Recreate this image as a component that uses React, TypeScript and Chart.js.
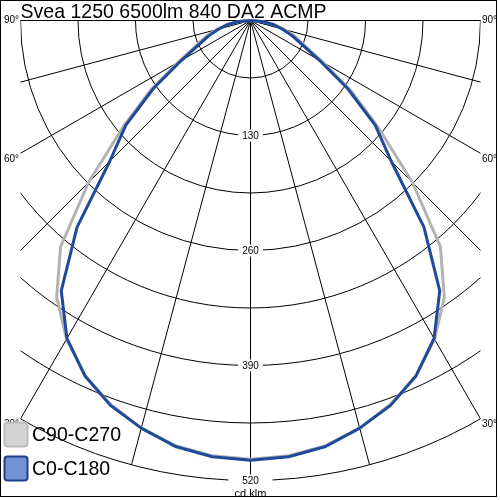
import React, { useEffect, useRef } from "react";
import { Chart, registerables } from "chart.js";

Chart.register(...registerables);

// ---------- data ----------
const TITLE = "Svea 1250 6500lm 840 DA2 ACMP";
const UNIT_LABEL = "cd.klm";
const SERIES_LABELS = ["C90-C270", "C0-C180"];
// gamma angles (degrees from nadir), same for both half-planes
const gammaAngles = [0, 5, 10, 15, 20, 25, 30, 35, 40, 45, 50, 55, 60, 65, 70, 75, 80, 85, 90];
// luminous intensity, cd/klm
const c0c180 = [497, 495, 489, 477, 463, 443, 415, 373, 305, 225, 184, 134, 90, 64, 50, 37, 26, 13, 0];
const c90c270 = [496, 494, 488, 477, 462, 443, 416, 382, 334, 259, 189, 139, 95, 68, 54, 40, 28, 14, 0];
// grid
const ringValues = [65, 130, 195, 260, 325, 390, 455, 520];
const ringLabels = [130, 260, 390, 520];
const spokeAngles = [-90, -75, -60, -45, -30, -15, 0, 15, 30, 45, 60, 75, 90];
const angleLabels = [30, 60, 90];

// ---------- style / layout ----------
const GRAY = "#b3b3b3";
const BLUE = "#1e4a9a";
const PX_PER_CD = 115 / 130;
const CENTER_X = 250.5;
const CENTER_Y = 20.5;
const SIZE = 500;
const GRID_HALF_WIDTH = 260; // cd units
const FONT = '"Liberation Sans", Arial, sans-serif';
const BIG_FONT = "21px " + FONT;
const BIG_SCALE_X = 0.93;

function polar(gammaDeg: number, value: number) {
  const g = (gammaDeg * Math.PI) / 180;
  return { x: value * Math.sin(g), y: -value * Math.cos(g) };
}

function buildCurve(values: number[]) {
  const pts: { x: number; y: number }[] = [];
  for (let i = gammaAngles.length - 1; i >= 0; i--) pts.push(polar(-gammaAngles[i], values[i]));
  for (let i = 1; i < gammaAngles.length; i++) pts.push(polar(gammaAngles[i], values[i]));
  return pts;
}

function drawCondensed(ctx: CanvasRenderingContext2D, text: string, x: number, y: number) {
  ctx.save();
  ctx.translate(x, y);
  ctx.scale(BIG_SCALE_X, 1);
  ctx.font = BIG_FONT;
  ctx.textAlign = "left";
  ctx.fillText(text, 0, 0);
  ctx.restore();
}

const polarGridPlugin = {
  id: "polarGrid",
  beforeDraw(chart: any) {
    const { ctx } = chart;
    ctx.save();
    ctx.fillStyle = "#ffffff";
    ctx.fillRect(0, 0, chart.width, chart.height);
    ctx.restore();
  },
  beforeDatasetsDraw(chart: any) {
    const { ctx } = chart;
    const xs = chart.scales.x;
    const ys = chart.scales.y;
    const cx = xs.getPixelForValue(0);
    const cy = ys.getPixelForValue(0);
    const k = xs.getPixelForValue(1) - cx;
    const left = xs.getPixelForValue(-GRID_HALF_WIDTH);
    const right = xs.getPixelForValue(GRID_HALF_WIDTH);
    const rmax = ringValues[ringValues.length - 1] * k;

    ctx.save();
    ctx.beginPath();
    ctx.rect(left, cy - 1, right - left, rmax + 3);
    ctx.clip();
    ctx.strokeStyle = "#000";
    ctx.lineWidth = 1;
    for (const v of ringValues) {
      ctx.beginPath();
      ctx.arc(cx, cy, v * k, 0, Math.PI);
      ctx.stroke();
    }
    for (const a of spokeAngles) {
      const p = polar(a, ringValues[ringValues.length - 1]);
      ctx.beginPath();
      ctx.moveTo(cx, cy);
      ctx.lineTo(xs.getPixelForValue(p.x), ys.getPixelForValue(p.y));
      ctx.stroke();
    }
    ctx.restore();

    // ring labels
    ctx.save();
    ctx.font = "10px " + FONT;
    ctx.textAlign = "center";
    ctx.textBaseline = "middle";
    ringLabels.forEach((v, i) => {
      const py = ys.getPixelForValue(-v);
      const txt = String(v);
      const w = i === ringLabels.length - 1 ? 44 : ctx.measureText(txt).width + 8;
      ctx.fillStyle = "#fff";
      ctx.fillRect(cx - w / 2, py - 6, w, 12);
      ctx.fillStyle = "#000";
      ctx.fillText(txt, cx, py + 0.5);
    });
    // unit label
    ctx.font = "11px " + FONT;
    ctx.textBaseline = "alphabetic";
    ctx.fillText(UNIT_LABEL, cx, 497);

    // angle labels
    ctx.font = "10px " + FONT;
    ctx.textBaseline = "middle";
    for (const a of angleLabels) {
      const g = (a * Math.PI) / 180;
      const len = Math.min(rmax, (right - cx) / Math.sin(g));
      const endY = cy + len * Math.cos(g);
      const ty = endY + (a < 90 ? 5.5 : 0);
      ctx.textAlign = "right";
      ctx.fillText(a + "°", left - 1.5, ty);
      ctx.textAlign = "left";
      ctx.fillText(a + "°", right + 1.5, ty);
    }
    ctx.restore();
  },
  afterDraw(chart: any) {
    const { ctx } = chart;
    ctx.save();
    // title
    ctx.fillStyle = "#000";
    ctx.textBaseline = "alphabetic";
    drawCondensed(ctx, TITLE, 20.5, 17.5);

    // legend
    const items = [
      { label: SERIES_LABELS[0], fill: "#d4d4d4", stroke: "#bcbcbc", y: 422 },
      { label: SERIES_LABELS[1], fill: "#7193d6", stroke: "#1f3f8f", y: 456 },
    ];
    for (const it of items) {
      ctx.beginPath();
      (ctx as any).roundRect(4.5, it.y + 0.5, 23, 24, 3);
      ctx.fillStyle = it.fill;
      ctx.fill();
      ctx.lineWidth = 2;
      ctx.strokeStyle = it.stroke;
      ctx.stroke();
      ctx.fillStyle = "#000";
      ctx.textBaseline = "middle";
      drawCondensed(ctx, it.label, 32, it.y + 13);
    }

    // frame
    ctx.strokeStyle = "#000";
    ctx.lineWidth = 1;
    ctx.strokeRect(0.5, 0.5, 496, 496);
    ctx.restore();
  },
};

export default function App() {
  const ref = useRef<HTMLCanvasElement | null>(null);

  useEffect(() => {
    if (!ref.current) return;
    const xMin = -CENTER_X / PX_PER_CD;
    const xMax = (SIZE - CENTER_X) / PX_PER_CD;
    const yMax = CENTER_Y / PX_PER_CD;
    const yMin = -(SIZE - CENTER_Y) / PX_PER_CD;

    const chart = new Chart(ref.current, {
      type: "scatter",
      data: {
        datasets: [
          {
            label: SERIES_LABELS[1],
            data: buildCurve(c0c180),
            showLine: true,
            borderColor: BLUE,
            backgroundColor: BLUE,
            borderWidth: 3,
            pointRadius: 0,
            tension: 0,
            borderJoinStyle: "round",
            order: 0,
          },
          {
            label: SERIES_LABELS[0],
            data: buildCurve(c90c270),
            showLine: true,
            borderColor: GRAY,
            backgroundColor: GRAY,
            borderWidth: 3,
            pointRadius: 0,
            tension: 0,
            borderJoinStyle: "round",
            order: 1,
          },
        ],
      },
      options: {
        animation: false,
        responsive: false,
        maintainAspectRatio: false,
        events: [],
        layout: { padding: 0 },
        scales: {
          x: { type: "linear", display: false, min: xMin, max: xMax },
          y: { type: "linear", display: false, min: yMin, max: yMax },
        },
        plugins: {
          legend: { display: false },
          tooltip: { enabled: false },
          title: { display: false },
        },
      },
      plugins: [polarGridPlugin],
    } as any);
    return () => chart.destroy();
  }, []);

  return (
    <div style={{ position: "absolute", left: 0, top: 0, width: SIZE, height: SIZE, background: "#fff" }}>
      <canvas ref={ref} width={SIZE} height={SIZE} style={{ width: SIZE, height: SIZE, display: "block" }} />
    </div>
  );
}
